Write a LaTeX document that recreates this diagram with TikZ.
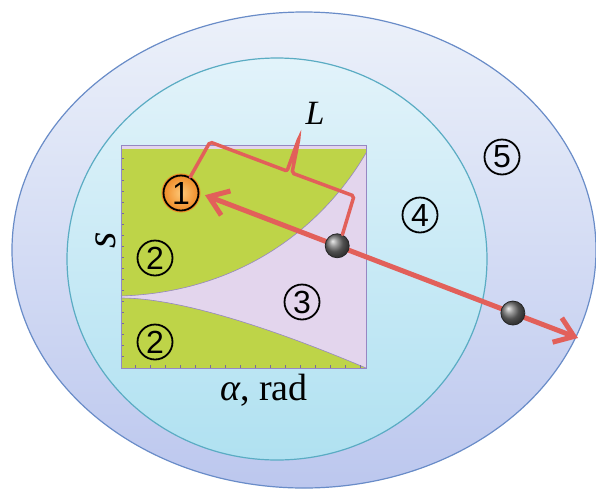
\documentclass[tikz,border=0pt]{standalone}
\usepackage{fontspec}
\setmainfont{Liberation Serif}
\newfontfamily\digitfont{Liberation Sans}
\usepackage{tikz}
\usetikzlibrary{arrows.meta}
\definecolor{outertop}{RGB}{236,241,250}
\definecolor{outerbot}{RGB}{188,199,238}
\definecolor{outerrim}{RGB}{105,140,200}
\definecolor{innertop}{RGB}{226,243,250}
\definecolor{innerbot}{RGB}{176,225,241}
\definecolor{innerrim}{RGB}{90,172,195}
\definecolor{leaf}{RGB}{190,212,72}
\definecolor{lav}{RGB}{227,213,237}
\definecolor{frame}{RGB}{150,135,195}
\definecolor{beamred}{RGB}{226,96,90}
\definecolor{orangein}{RGB}{253,200,120}
\definecolor{orangeout}{RGB}{240,140,40}

\begin{document}
\begin{tikzpicture}[
			x=1pt, y=-1pt,
			region/.style={circle,draw=black,line width=1.8pt,minimum size=35pt,inner sep=0pt,
					font=\digitfont\fontsize{32}{32}\selectfont}, % circled region number
			particle/.style={circle,draw=black!85,line width=0.8pt,minimum size=24pt,inner sep=0pt,
					ball color=black!55},
			beam/.style={draw=beamred,line width=5pt,
					{Straight Barb[length=18pt,width=26pt]}-{Straight Barb[length=18pt,width=26pt]}},
			brace/.style={draw=beamred,line width=3.5pt,rounded corners=2pt,line cap=round},
			tick/.style={draw=frame!80!black,line width=0.5pt},
			lbl/.style={font=\fontsize{38}{40}\selectfont},
		]
		\useasboundingbox[fill=white] (0,0) rectangle (596,493);

		% --- the two nested zones
		\draw[outerrim,line width=1.2pt,top color=outertop,bottom color=outerbot]
		(304,250) ellipse [x radius=292, y radius=238];
		\draw[innerrim,line width=1.2pt,top color=innertop,bottom color=innerbot]
		(277,259) ellipse [x radius=210, y radius=201];

		% --- the (alpha, s) map
		\fill[lav] (121,145) rectangle (366,368);
		\fill[leaf] (121,149) -- (366,149) -- (366,153)
		.. controls (322,228) and (240,292) .. (121,296) -- cycle;
		\fill[leaf] (121,298) .. controls (190,298) and (300,340) .. (366,368) -- (121,368) -- cycle;
		\draw[frame,line width=0.6pt] (366,153) .. controls (322,228) and (240,292) .. (121,296);
		\draw[frame,line width=0.6pt] (121,298) .. controls (190,298) and (300,340) .. (366,368);
		\foreach \y in {158,169,...,360} \draw[tick] (121,\y) -- (124,\y);
		\foreach \x in {135,150,...,360} \draw[tick] (\x,368) -- (\x,365);
		\draw[frame,line width=1pt] (121,145) rectangle (366,368);

		% --- axis labels
		\node[lbl,rotate=90] (ylab) at (106,240) {\fontsize{42}{42}\selectfont\itshape s};
		\node[lbl] (xlab) at (264,390) {{\itshape α}, rad};

		% --- region numbers
		\node[region,inner color=orangein,outer color=orangeout,
			preaction={draw=orangeout,line width=4pt}] (r1) at (181,193) {1};
		\node[region] (r2a) at (155,258) {2};
		\node[region] (r2b) at (155,342) {2};
		\node[region] (r3) at (302,302) {3};
		\node[region] (r4) at (420,215) {4};
		\node[region] (r5) at (502,157) {5};

		% --- the straight path through the zones and its two crossing points
		\coordinate (exit) at (578,338);
		\draw[beam,shorten <=6pt] (r1.east) -- (exit)
		coordinate[pos=0.364] (hit1) coordinate[pos=0.828] (hit2);
		\node[particle] (d1) at (hit1) {};
		\node[particle] (d2) at (hit2) {};

		% --- the length L
		\draw[brace] (r1.60) -- (210,142) -- (287,171) -- (299,138) -- (292,173) -- (354,196) -- (d1.65);
		\node[font=\fontsize{34}{34}\selectfont\itshape] (len) at (315,113) {L};
	\end{tikzpicture}
\end{document}
